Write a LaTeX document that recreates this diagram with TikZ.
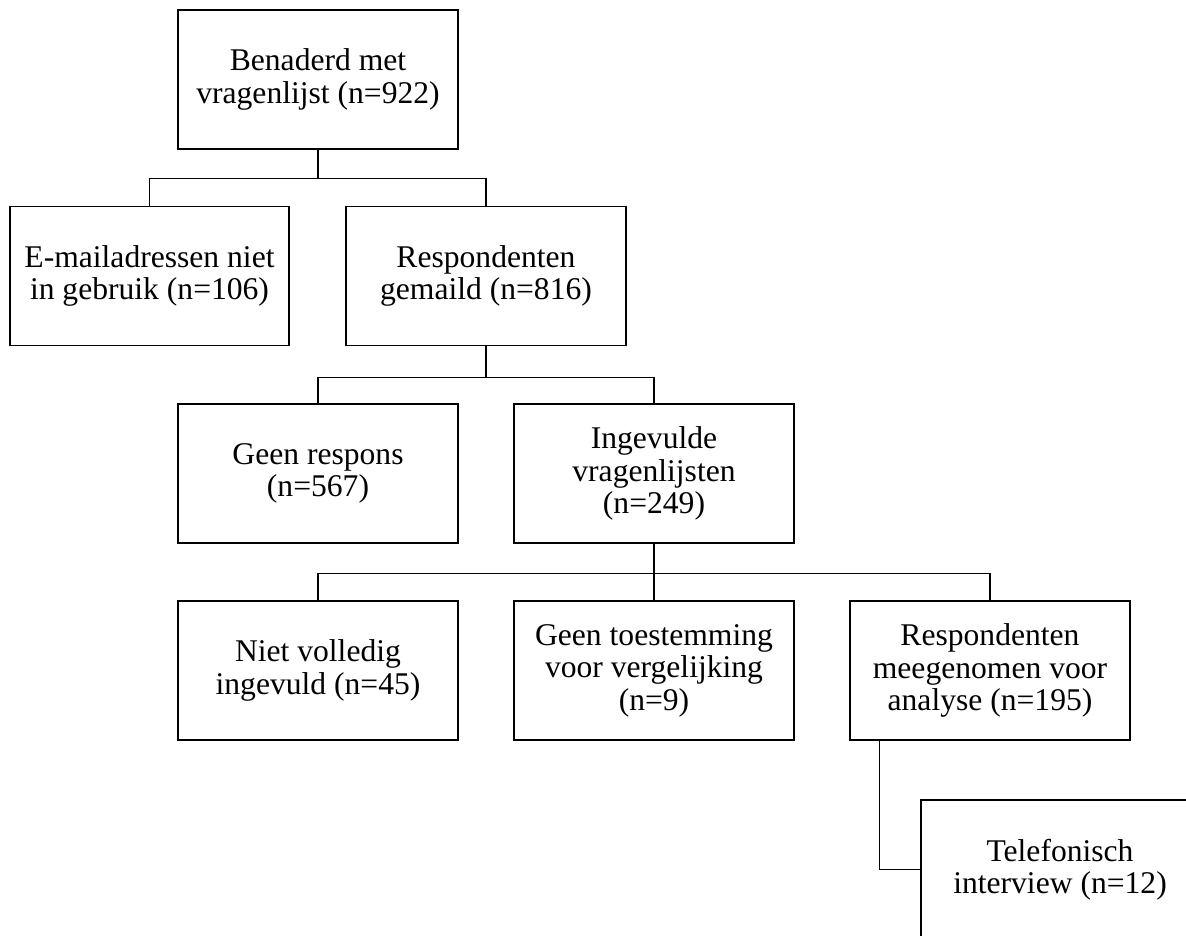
\documentclass[tikz,border=0pt]{standalone}
\usepackage{fontspec}
\setmainfont{Liberation Serif}
\begin{document}
\begin{tikzpicture}[x=1pt,y=-1pt,
  box/.style={draw=black,line width=1.1pt,minimum width=280pt,minimum height=139pt,inner sep=0pt,align=center,font=\fontsize{31.6}{32.5}\selectfont},
  conn/.style={draw=black,line width=1.1pt}]
\useasboundingbox (0,0) rectangle (1186,936);
\clip (0,0) rectangle (1186,936);
\node[box] (b1) at (318,79.5) {Benaderd met\\vragenlijst (n=922)};
\node[box,minimum width=279pt] (b2) at (149.5,276) {E-mailadressen niet\\in gebruik (n=106)};
\node[box] (b3) at (486,276) {Respondenten\\gemaild (n=816)};
\node[box] (b4) at (318,473.5) {Geen respons\\(n=567)};
\node[box] (b5) at (654,473.5) {Ingevulde\\vragenlijsten\\(n=249)};
\node[box] (b6) at (318,670.5) {Niet volledig\\ingevuld (n=45)};
\node[box] (b7) at (654,670.5) {Geen toestemming\\voor vergelijking\\(n=9)};
\node[box] (b8) at (990,670.5) {Respondenten\\meegenomen voor\\analyse (n=195)};
\node[box,minimum width=278pt] (b9) at (1060,869.5) {Telefonisch\\interview (n=12)};
\coordinate (j1) at ([yshift=-29pt]b1.south);
\coordinate (j2) at ([yshift=-31pt]b3.south);
\coordinate (j3) at ([yshift=-30pt]b5.south);
\draw[conn] (b1.south) -- (j1) -| (b2.north);
\draw[conn] (j1) -| (b3.north);
\draw[conn] (b3.south) -- (j2) -| (b4.north);
\draw[conn] (j2) -| (b5.north);
\draw[conn] (b5.south) -- (j3) -| (b6.north);
\draw[conn] (j3) -- (b7.north);
\draw[conn] (j3) -| (b8.north);
\draw[conn] ([xshift=30pt]b8.south west) |- (b9.west);
\end{tikzpicture}
\end{document}
